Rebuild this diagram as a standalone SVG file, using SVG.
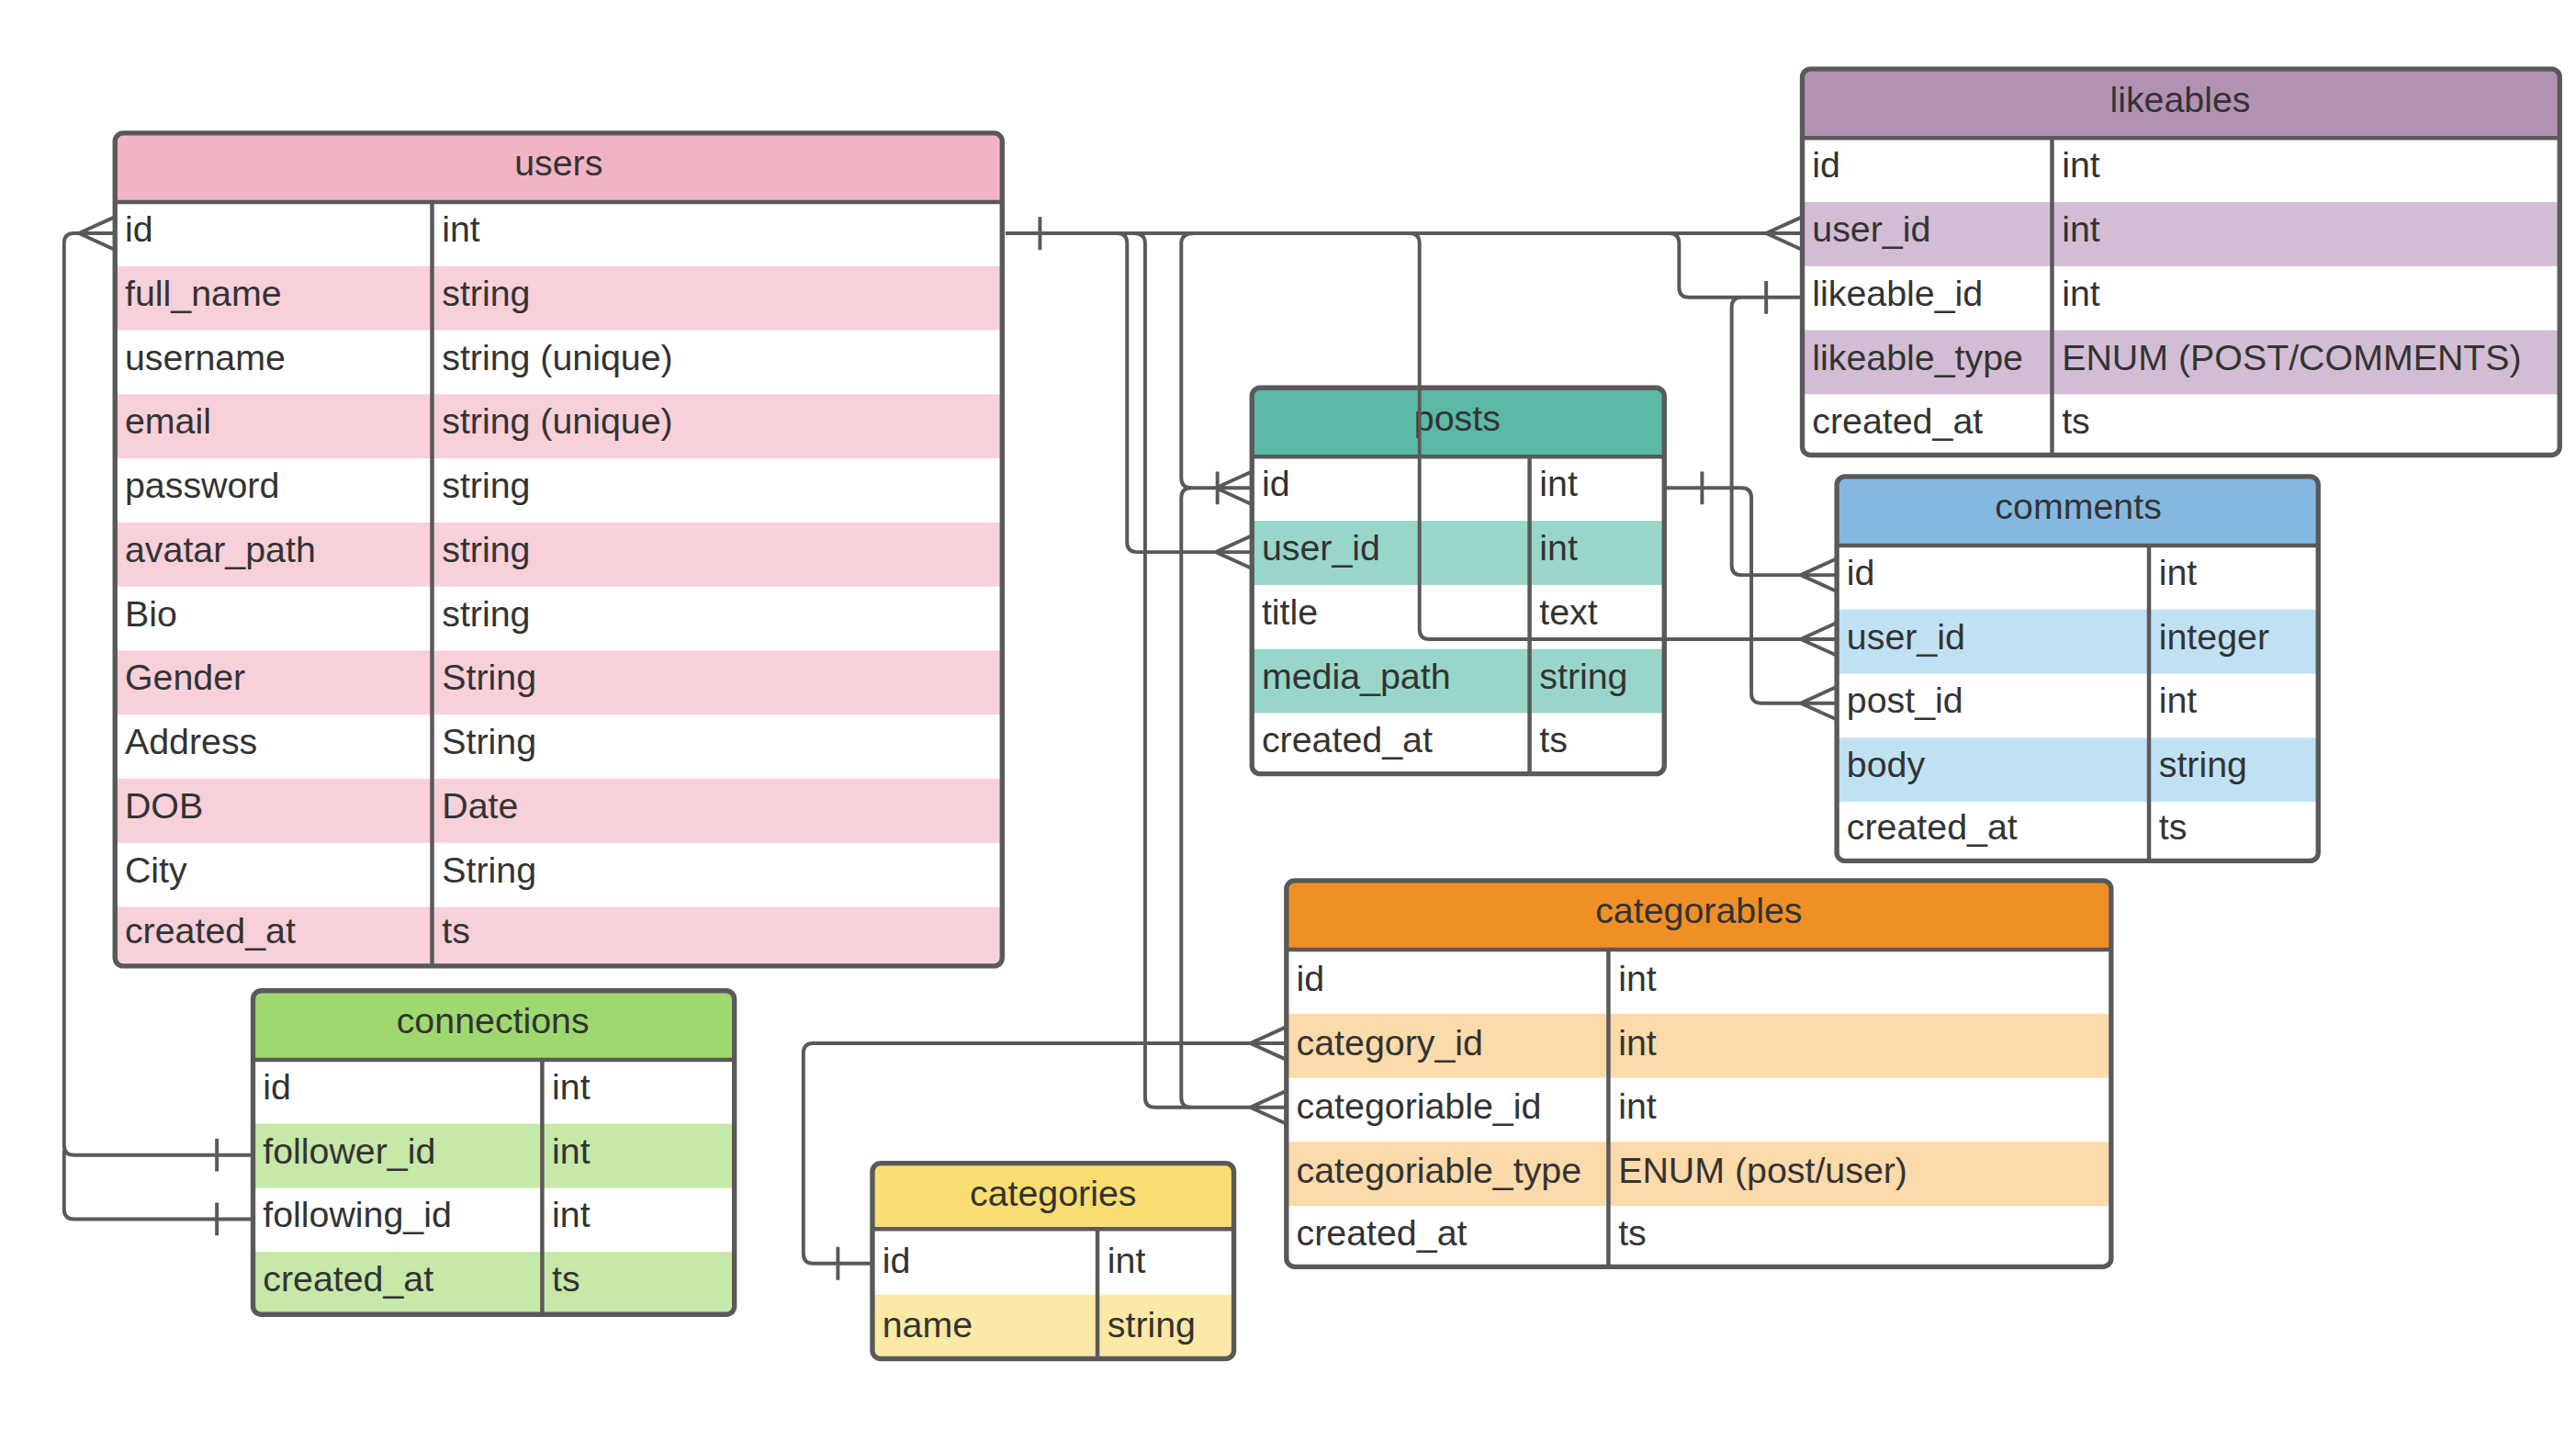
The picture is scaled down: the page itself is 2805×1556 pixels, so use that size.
<svg xmlns="http://www.w3.org/2000/svg" width="2805" height="1556" viewBox="0 0 2805 1556">
<style>
text{font-family:"Liberation Sans",Arial,sans-serif;font-size:22px;fill:#333}
.h{text-anchor:middle}
.box{fill:none;stroke:#595959;stroke-width:3}
.div{stroke:#595959;stroke-width:2.5}
.c{fill:none;stroke:#595959;stroke-width:2.2}
</style>
<rect width="2805" height="1556" fill="#fff"/>
<g transform="scale(1.789)">
<g id="users">
<rect x="70" y="81" width="540" height="507" rx="5" fill="#fff"/>
<path d="M75,81H605Q610,81 610,86V123H70V86Q70,81 75,81Z" fill="#f2b3c5"/>
<rect x="70" y="162" width="540" height="39" fill="#f7d0da"/>
<rect x="70" y="240" width="540" height="39" fill="#f7d0da"/>
<rect x="70" y="318" width="540" height="39" fill="#f7d0da"/>
<rect x="70" y="396" width="540" height="39" fill="#f7d0da"/>
<rect x="70" y="474" width="540" height="39" fill="#f7d0da"/>
<rect x="70" y="552" width="540" height="36" fill="#f7d0da"/>
<line class="div" x1="70" y1="123" x2="610" y2="123"/><line class="div" x1="263" y1="123" x2="263" y2="588"/>
<rect class="box" x="70" y="81" width="540" height="507" rx="5"/>
<text class="h" x="340" y="107">users</text>
<text x="76" y="147">id</text><text x="269" y="147">int</text>
<text x="76" y="186">full_name</text><text x="269" y="186">string</text>
<text x="76" y="225">username</text><text x="269" y="225">string (unique)</text>
<text x="76" y="264">email</text><text x="269" y="264">string (unique)</text>
<text x="76" y="303">password</text><text x="269" y="303">string</text>
<text x="76" y="342">avatar_path</text><text x="269" y="342">string</text>
<text x="76" y="381">Bio</text><text x="269" y="381">string</text>
<text x="76" y="420">Gender</text><text x="269" y="420">String</text>
<text x="76" y="459">Address</text><text x="269" y="459">String</text>
<text x="76" y="498">DOB</text><text x="269" y="498">Date</text>
<text x="76" y="537">City</text><text x="269" y="537">String</text>
<text x="76" y="574">created_at</text><text x="269" y="574">ts</text>
</g>
<g id="likeables">
<rect x="1097" y="42" width="461" height="235" rx="5" fill="#fff"/>
<path d="M1102,42H1553Q1558,42 1558,47V84H1097V47Q1097,42 1102,42Z" fill="#b291b3"/>
<rect x="1097" y="123" width="461" height="39" fill="#d3bdd4"/>
<rect x="1097" y="201" width="461" height="39" fill="#d3bdd4"/>
<line class="div" x1="1097" y1="84" x2="1558" y2="84"/><line class="div" x1="1249" y1="84" x2="1249" y2="277"/>
<rect class="box" x="1097" y="42" width="461" height="235" rx="5"/>
<text class="h" x="1327" y="68">likeables</text>
<text x="1103" y="108">id</text><text x="1255" y="108">int</text>
<text x="1103" y="147">user_id</text><text x="1255" y="147">int</text>
<text x="1103" y="186">likeable_id</text><text x="1255" y="186">int</text>
<text x="1103" y="225">likeable_type</text><text x="1255" y="225">ENUM (POST/COMMENTS)</text>
<text x="1103" y="264">created_at</text><text x="1255" y="264">ts</text>
</g>
<g id="comments">
<rect x="1118" y="290" width="293" height="234" rx="5" fill="#fff"/>
<path d="M1123,290H1406Q1411,290 1411,295V332H1118V295Q1118,290 1123,290Z" fill="#83b9e1"/>
<rect x="1118" y="371" width="293" height="39" fill="#c0e1f2"/>
<rect x="1118" y="449" width="293" height="39" fill="#c0e1f2"/>
<line class="div" x1="1118" y1="332" x2="1411" y2="332"/><line class="div" x1="1308" y1="332" x2="1308" y2="524"/>
<rect class="box" x="1118" y="290" width="293" height="234" rx="5"/>
<text class="h" x="1265" y="316">comments</text>
<text x="1124" y="356">id</text><text x="1314" y="356">int</text>
<text x="1124" y="395">user_id</text><text x="1314" y="395">integer</text>
<text x="1124" y="434">post_id</text><text x="1314" y="434">int</text>
<text x="1124" y="473">body</text><text x="1314" y="473">string</text>
<text x="1124" y="511">created_at</text><text x="1314" y="511">ts</text>
</g>
<g id="categorables">
<rect x="783" y="536" width="502" height="235" rx="5" fill="#fff"/>
<path d="M788,536H1280Q1285,536 1285,541V578H783V541Q783,536 788,536Z" fill="#ef8f26"/>
<rect x="783" y="617" width="502" height="39" fill="#fcdaa9"/>
<rect x="783" y="695" width="502" height="39" fill="#fcdaa9"/>
<line class="div" x1="783" y1="578" x2="1285" y2="578"/><line class="div" x1="979" y1="578" x2="979" y2="771"/>
<rect class="box" x="783" y="536" width="502" height="235" rx="5"/>
<text class="h" x="1034" y="562">categorables</text>
<text x="789" y="603">id</text><text x="985" y="603">int</text>
<text x="789" y="642">category_id</text><text x="985" y="642">int</text>
<text x="789" y="681">categoriable_id</text><text x="985" y="681">int</text>
<text x="789" y="720">categoriable_type</text><text x="985" y="720">ENUM (post/user)</text>
<text x="789" y="758">created_at</text><text x="985" y="758">ts</text>
</g>
<g id="connections">
<rect x="154" y="603" width="293" height="197" rx="5" fill="#fff"/>
<path d="M159,603H442Q447,603 447,608V645H154V608Q154,603 159,603Z" fill="#a0d870"/>
<rect x="154" y="684" width="293" height="39" fill="#c6e8a8"/>
<rect x="154" y="762" width="293" height="38" fill="#c6e8a8"/>
<line class="div" x1="154" y1="645" x2="447" y2="645"/><line class="div" x1="330" y1="645" x2="330" y2="800"/>
<rect class="box" x="154" y="603" width="293" height="197" rx="5"/>
<text class="h" x="300" y="629">connections</text>
<text x="160" y="669">id</text><text x="336" y="669">int</text>
<text x="160" y="708">follower_id</text><text x="336" y="708">int</text>
<text x="160" y="747">following_id</text><text x="336" y="747">int</text>
<text x="160" y="786">created_at</text><text x="336" y="786">ts</text>
</g>
<g id="categories">
<rect x="531" y="708" width="220" height="119" rx="5" fill="#fff"/>
<path d="M536,708H746Q751,708 751,713V748H531V713Q531,708 536,708Z" fill="#fbde71"/>
<rect x="531" y="788" width="220" height="39" fill="#fce9a6"/>
<line class="div" x1="531" y1="748" x2="751" y2="748"/><line class="div" x1="668" y1="748" x2="668" y2="827"/>
<rect class="box" x="531" y="708" width="220" height="119" rx="5"/>
<text class="h" x="641" y="734">categories</text>
<text x="537" y="775">id</text><text x="674" y="775">int</text>
<text x="537" y="814">name</text><text x="674" y="814">string</text>
</g>
<g id="posts">
<rect x="762" y="236" width="251" height="235" rx="5" fill="#fff"/>
<path d="M767,236H1008Q1013,236 1013,241V278H762V241Q762,236 767,236Z" fill="#5bb9a5"/>
<rect x="762" y="317" width="251" height="39" fill="#98d6c9"/>
<rect x="762" y="395" width="251" height="39" fill="#98d6c9"/>
<line class="div" x1="762" y1="278" x2="1013" y2="278"/><line class="div" x1="931" y1="278" x2="931" y2="471"/>
<rect class="box" x="762" y="236" width="251" height="235" rx="5"/>
<text class="h" x="887" y="262">posts</text>
<text x="768" y="302">id</text><text x="937" y="302">int</text>
<text x="768" y="341">user_id</text><text x="937" y="341">int</text>
<text x="768" y="380">title</text><text x="937" y="380">text</text>
<text x="768" y="419">media_path</text><text x="937" y="419">string</text>
<text x="768" y="458">created_at</text><text x="937" y="458">ts</text>
</g>
<g id="connectors">
<path class="c" d="M154,703H45Q39,703 39,697V148Q39,142 45,142H70"/>
<path class="c" d="M154,742H45Q39,742 39,736V700"/>
<path class="c" d="M48,142L70,132M48,142L70,152"/>
<path class="c" d="M132,693V713M132,732V752"/>
<path class="c" d="M612,142H1097M633,132V152"/>
<path class="c" d="M1075,142L1097,132M1075,142L1097,152"/>
<path class="c" d="M680,142Q686,142 686,148V330Q686,336 692,336H762M740,336L762,326M740,336L762,346"/>
<path class="c" d="M690,142Q697,142 697,148V668Q697,674 703,674H783M761,674L783,664M761,674L783,684"/>
<path class="c" d="M727,142Q719,142 719,148V291Q719,297 725,297H762M740,297L762,287M740,297L762,307M741,287V307"/>
<path class="c" d="M725,297Q719,297 719,303V668Q719,674 725,674"/>
<path class="c" d="M858,142Q864,142 864,148V383Q864,389 870,389H1118M1096,389L1118,379M1096,389L1118,399"/>
<path class="c" d="M1016,142Q1022,142 1022,148V175Q1022,181 1028,181H1097M1075,171V191"/>
<path class="c" d="M1060,181Q1054,181 1054,187V344Q1054,350 1060,350H1118M1096,350L1118,340M1096,350L1118,360"/>
<path class="c" d="M1013,297H1060Q1066,297 1066,303V422Q1066,428 1072,428H1118M1036,287V307M1096,428L1118,418M1096,428L1118,438"/>
<path class="c" d="M783,635H495Q489,635 489,641V763Q489,769 495,769H531M761,635L783,625M761,635L783,645M510,759V779"/>
</g>
</g>
</svg>
